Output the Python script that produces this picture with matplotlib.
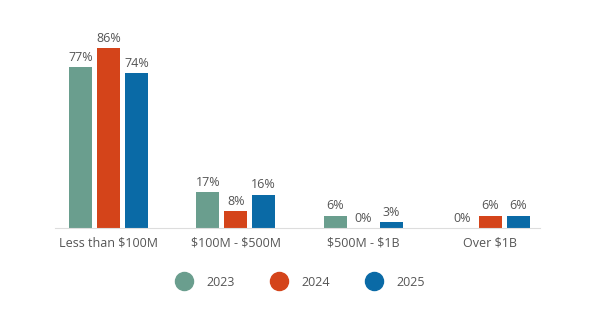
import matplotlib
matplotlib.use('Agg')
import matplotlib.pyplot as plt
import numpy as np
from matplotlib.lines import Line2D

categories = ['Less than $100M', '$100M - $500M', '$500M - $1B', 'Over $1B']
years = ['2023', '2024', '2025']
v2023 = [77, 17, 6, 0]
v2024 = [86, 8, 0, 6]
v2025 = [74, 16, 3, 6]
colors = ['#6a9e8e', '#d4441a', '#0a6aa6']

plt.rcParams['font.family'] = ['Open Sans', 'DejaVu Sans']
plt.rcParams['text.parse_math'] = False
fig = plt.figure(figsize=(6, 3.31), dpi=100)
ax = fig.add_axes([0.0917, 0.311, 0.8083, 0.632])

x = np.arange(len(categories))
width = 0.18
step = 0.22
for i, (vals, c) in enumerate(zip([v2023, v2024, v2025], colors)):
    pos = x + (i - 1) * step
    ax.bar(pos, vals, width=width, color=c)
    for p, v in zip(pos, vals):
        ax.text(p, v + 1.5, f'{v}%', ha='center', va='bottom',
                fontsize=9, color='#555555')

ax.set_xlim(-0.42, 3.39)
ax.set_ylim(0, 100)
ax.set_xticks(x)
ax.set_xticklabels(categories, fontsize=9, color='#555555')
ax.tick_params(axis='x', length=0, pad=6)
ax.set_yticks([])
for s in ['top', 'right', 'left']:
    ax.spines[s].set_visible(False)
ax.spines['bottom'].set_color('#dddddd')

handles = [Line2D([], [], marker='o', linestyle='', markersize=13,
                  markerfacecolor=c, markeredgecolor=c) for c in colors]
fig.legend(handles, years, loc='center', bbox_to_anchor=(0.497, 0.148),
           ncol=3, frameon=False, fontsize=9, labelcolor='#555555',
           columnspacing=2.5, handletextpad=0.8)

fig.savefig('out.png', dpi=100)
